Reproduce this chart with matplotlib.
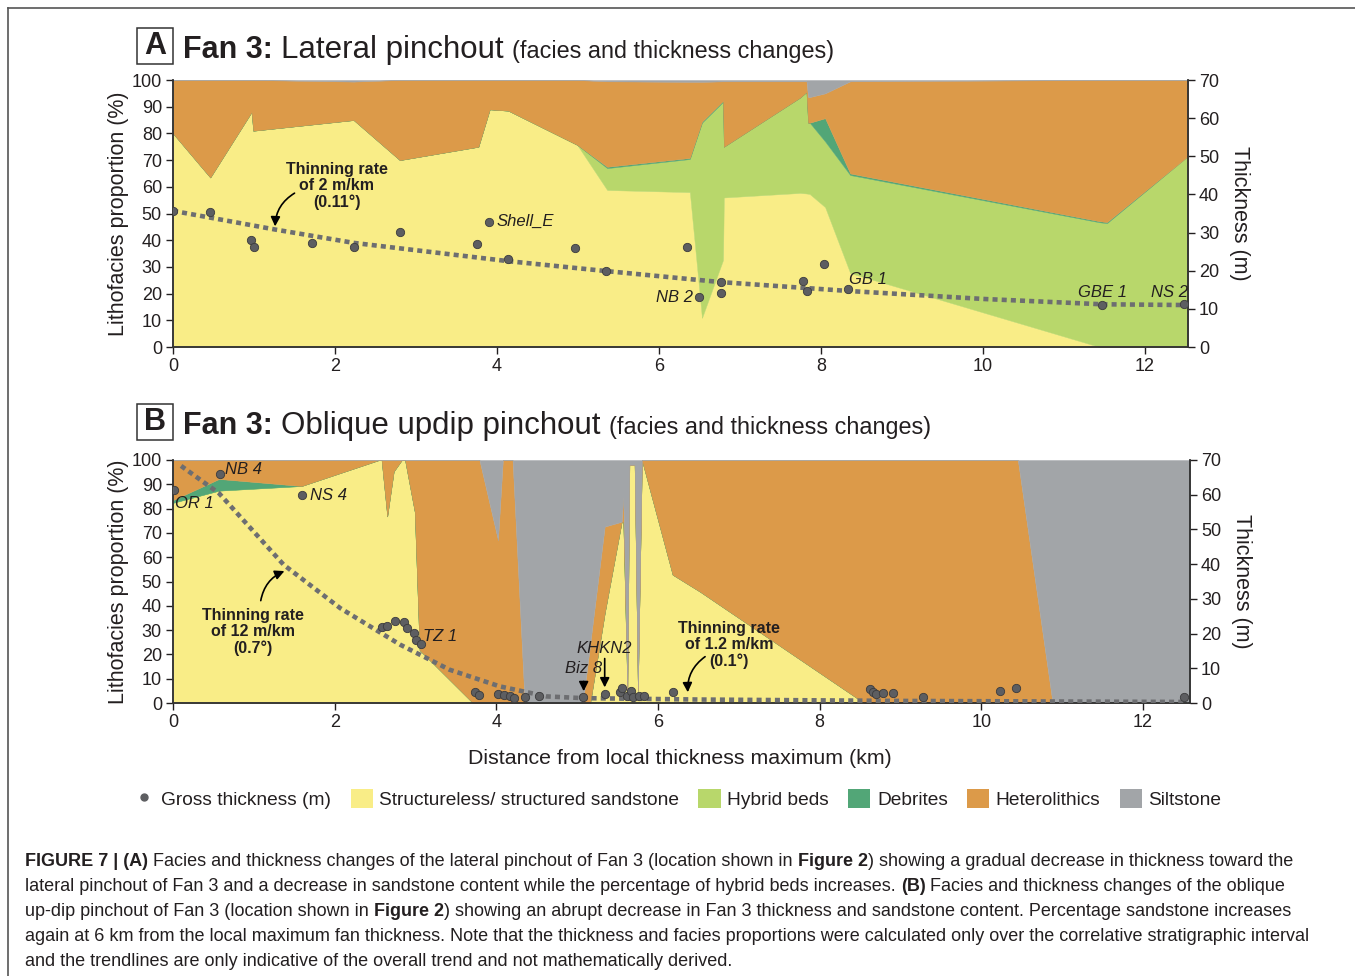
import matplotlib
matplotlib.use('Agg')
import matplotlib.pyplot as plt
from matplotlib.patches import Rectangle, Patch
from matplotlib.lines import Line2D

plt.rcParams['font.family'] = ['Liberation Sans', 'DejaVu Sans']

# ---- Panel A: lateral pinchout (cumulative facies tops, %) ----
a_x = [0, 0.46, 0.97, 0.99, 2.23, 2.8, 3.77, 3.91, 4.14, 4.99, 5.36, 6.38, 6.53, 6.79, 6.80,
       7.74, 7.82, 7.84, 7.86, 8.05, 8.36, 11.44, 11.53, 12.55]
a_sand = [80, 63.5, 88, 81, 85, 70, 75, 89, 88.5, 75.7, 58.8, 58, 10.9, 32.6, 56,
          57.7, 57.5, 57.4, 57.3, 52.4, 27.7, 0, 0, 0]
a_hybrid = [80, 63.5, 88, 81, 85, 70, 75, 89, 88.5, 75.7, 67, 70.4, 84, 91.8, 75,
            93.4, 95.5, 84, 84, 77, 64.4, 46.7, 46.4, 72]
a_debrite = [80, 63.5, 88, 81, 85, 70, 75, 89, 88.5, 75.7, 67.5, 70.8, 84.4, 92.2, 75,
             93.4, 95.5, 84, 84, 85.7, 65, 47.1, 46.8, 72]
a_hetero = [100, 100, 100, 100, 99.4, 100, 100, 100, 100, 100, 99.5, 99.3, 99.3, 99.5, 99.5,
            99.5, 99.5, 93.6, 93.6, 95, 99.5, 100, 100, 100]

a_well_x = [0, 0.46, 0.96, 1.0, 1.72, 2.23, 2.8, 3.75, 3.9, 4.14, 4.96, 5.35, 6.35, 6.49,
            6.77, 6.77, 7.78, 7.83, 8.04, 8.33, 11.47, 12.48]
a_well_m = [35.7, 35.4, 28.1, 26.2, 27.3, 26.2, 30.2, 27.0, 32.8, 23.0, 26.0, 19.9, 26.2, 13.1,
            17.0, 14.2, 17.3, 14.7, 21.8, 15.2, 11.0, 11.3]
a_trend_x = [0, 1.26, 2.23, 4.14, 5.35, 6.77, 8.33, 10, 11.47, 12.5]
a_trend_m = [35.7, 30.8, 27.3, 22.5, 19.9, 17.0, 14.7, 12.6, 11.2, 11.0]

# ---- Panel B: oblique updip pinchout ----
b_x = [0, 0.57, 1.59, 2.55, 2.58, 2.65, 2.73, 2.83, 2.87, 2.99, 3.05, 3.71, 3.79, 4.02, 4.08,
       4.20, 4.35, 5.07, 5.16, 5.34, 5.55, 5.57, 5.62, 5.645, 5.71, 5.75, 5.80, 6.18, 6.52,
       8.55, 10.45, 10.88, 12.58]
b_sand = [82.4, 87.4, 89.3, 100, 100, 76.8, 95.3, 100, 100, 78.7, 21.8, 0, 0, 0, 0,
          0, 0, 0, 0, 37, 74.6, 74.6, 5, 98, 98, 5, 100, 52.8, 45.8,
          0, 0, 0, 0]
b_debrite = [83.5, 92.2, 89.3, 100, 100, 76.8, 95.3, 100, 100, 78.7, 21.8, 0, 0, 0, 0,
             0, 0, 0, 0, 37, 74.6, 74.6, 5, 98, 98, 5, 100, 52.8, 45.8,
             0, 0, 0, 0]
b_hetero = [100, 100, 100, 100, 100, 100, 100, 100, 100, 100, 100, 100, 100, 67, 100,
            100, 0, 0, 24.2, 72.6, 74.6, 85, 5, 98, 98, 5, 100, 100, 100,
            100, 100, 0, 0]

b_well_x = [0.01, 0.58, 1.60, 2.59, 2.65, 2.74, 2.86, 2.90, 2.98, 3.0, 3.07, 3.73, 3.78, 4.02,
            4.09, 4.17, 4.22, 4.36, 4.53, 5.07, 5.34, 5.53, 5.56, 5.61, 5.67, 5.69, 5.76, 5.83,
            6.19, 8.62, 8.66, 8.70, 8.78, 8.91, 9.28, 10.23, 10.43, 12.5]
b_well_m = [61.4, 66.0, 59.8, 21.9, 22.2, 23.5, 23.4, 21.6, 20.1, 18.2, 17.1, 3.2, 2.4, 2.6,
            2.2, 1.9, 1.4, 1.6, 1.9, 1.6, 2.7, 3.3, 4.3, 2.0, 3.5, 1.6, 1.9, 1.9,
            3.3, 3.9, 3.3, 2.5, 2.8, 2.8, 1.8, 3.5, 4.2, 1.6]
b_trend_x = [0.1, 0.57, 1.37, 2.07, 2.81, 3.42, 4.04, 4.62, 5.07, 6.5, 9, 12.55]
b_trend_m = [68.3, 60.4, 39.8, 27.3, 16.8, 9.6, 4.8, 1.9, 1.4, 1.0, 0.6, 0.3]

facies = ['Structureless/ structured sandstone', 'Hybrid beds', 'Debrites',
          'Heterolithics', 'Siltstone']
colors = ['#f9ed87', '#b8d76b', '#52a677', '#dc9a49', '#a2a5a8']
ink = '#231f20'
W, H = 1355, 976

fig = plt.figure(figsize=(W / 100, H / 100), dpi=100)


def add_ax(l, t, r, b):
    return fig.add_axes([l / W, 1 - b / H, (r - l) / W, (b - t) / H])


def panel(ax, x, tops, xmax, wx, wm, tx, tm):
    lower = [0] * len(x)
    for top, c in zip(tops, colors[:4]):
        ax.fill_between(x, lower, top, color=c, lw=0.3, ec=c)
        lower = top
    ax.fill_between(x, lower, [100] * len(x), color=colors[4], lw=0.3, ec=colors[4])
    ax.set_xlim(0, xmax)
    ax.set_ylim(0, 100)
    ax.set_yticks(range(0, 101, 10))
    ax.set_xticks(range(0, 13, 2))
    ax.spines['top'].set_visible(False)
    ax.set_ylabel('Lithofacies proportion (%)', fontsize=15.5, color=ink, labelpad=2)
    ax2 = ax.twinx()
    ax2.set_ylim(0, 70)
    ax2.set_yticks(range(0, 71, 10))
    ax2.spines['top'].set_visible(False)
    ax2.set_ylabel('Thickness (m)', fontsize=15.5, color=ink, rotation=-90, labelpad=22)
    for a in (ax, ax2):
        a.tick_params(direction='out', length=5, width=1, labelsize=13, colors=ink, pad=3)
        for s in a.spines.values():
            s.set_color('#333333')
            s.set_linewidth(1.1)
    ax2.plot(tx, tm, color='#6d6e71', lw=3.3, ls=(0, (1.1, 0.9)), zorder=4)
    ax2.plot(wx, wm, 'o', ms=6, mfc='#5d5e61', mec='#3b3b3d', mew=0.6, zorder=5)
    return ax2


axA = add_ax(173, 80, 1188, 347)
axA2 = panel(axA, a_x, [a_sand, a_hybrid, a_debrite, a_hetero], 12.53,
             a_well_x, a_well_m, a_trend_x, a_trend_m)
axB = add_ax(173, 460, 1190, 703)
axB2 = panel(axB, b_x, [b_sand, b_sand, b_debrite, b_hetero], 12.58,
             b_well_x, b_well_m, b_trend_x, b_trend_m)

# annotations panel A
lab = dict(fontsize=12, style='italic', color=ink)
axA2.text(2.02, 42.2, 'Thinning rate\nof 2 m/km\n(0.11°)', ha='center', va='center',
          fontsize=11.5, fontweight='bold', color=ink, linespacing=1.1)
axA2.annotate('', xy=(1.26, 30.9), xytext=(1.53, 40.7),
              arrowprops=dict(arrowstyle='-|>', color='black', lw=1.2,
                              connectionstyle='arc3,rad=0.3', mutation_scale=14))
axA2.text(4.0, 33.0, 'Shell_E', ha='left', va='center', **lab)
axA2.text(6.42, 13.1, 'NB 2', ha='right', va='center', **lab)
axA2.text(8.35, 17.6, 'GB 1', ha='left', va='center', **lab)
axA2.text(11.48, 14.4, 'GBE 1', ha='center', va='center', **lab)
axA2.text(12.3, 14.4, 'NS 2', ha='center', va='center', **lab)

# annotations panel B
axB2.text(0.99, 20.4, 'Thinning rate\nof 12 m/km\n(0.7°)', ha='center', va='center',
          fontsize=11.5, fontweight='bold', color=ink, linespacing=1.1)
axB2.annotate('', xy=(1.41, 38.3), xytext=(1.08, 28.7),
              arrowprops=dict(arrowstyle='-|>', color='black', lw=1.2,
                              connectionstyle='arc3,rad=-0.3', mutation_scale=14))
axB2.text(6.88, 16.7, 'Thinning rate\nof 1.2 m/km\n(0.1°)', ha='center', va='center',
          fontsize=11.5, fontweight='bold', color=ink, linespacing=1.1)
axB2.annotate('', xy=(6.37, 2.3), xytext=(6.61, 13.8),
              arrowprops=dict(arrowstyle='-|>', color='black', lw=1.2,
                              connectionstyle='arc3,rad=0.3', mutation_scale=14))
axB2.annotate('', xy=(5.08, 2.6), xytext=(5.08, 7.0),
              arrowprops=dict(arrowstyle='-|>', color='black', lw=1.2, mutation_scale=14))
axB2.annotate('', xy=(5.34, 3.7), xytext=(5.34, 13.6),
              arrowprops=dict(arrowstyle='-|>', color='black', lw=1.2, mutation_scale=14))
axB2.text(5.08, 9.8, 'Biz 8', ha='center', va='center', **lab)
axB2.text(5.34, 15.8, 'KHKN2', ha='center', va='center', **lab)
axB2.text(0.64, 67.4, 'NB 4', ha='left', va='center', **lab)
axB2.text(0.03, 57.6, 'OR 1', ha='left', va='center', **lab)
axB2.text(1.69, 59.9, 'NS 4', ha='left', va='center', **lab)
axB2.text(3.09, 19.3, 'TZ 1', ha='left', va='center', **lab)

fig.text(680 / W, 1 - 759 / H, 'Distance from local thickness maximum (km)',
         ha='center', va='center', fontsize=15.4, color=ink)

renderer = fig.canvas.get_renderer()


def width(txt, **kw):
    t1 = fig.text(0, 0, txt + '|', **kw)
    t2 = fig.text(0, 0, '|', **kw)
    w = t1.get_window_extent(renderer).width - t2.get_window_extent(renderer).width
    t1.remove()
    t2.remove()
    return w


def runs(x, y, parts):
    for txt, kw in parts:
        fig.text(x / W, 1 - y / H, txt, ha='left', va='baseline', color=ink, **kw)
        x += width(txt, **kw)


def title(y, letter, main):
    fig.add_artist(Rectangle((137 / W, 1 - (y + 6) / H), 36 / W, 36 / H,
                             transform=fig.transFigure, fill=False, ec='#333333', lw=1.1))
    fig.text(155 / W, 1 - (y - 12) / H, letter, ha='center', va='center', fontsize=22,
             fontweight='bold', color=ink)
    runs(183, y, [('Fan 3: ', dict(fontsize=22, fontweight='bold')),
                  (main + ' ', dict(fontsize=22.5)),
                  ('(facies and thickness changes)', dict(fontsize=16.8))])


title(58, 'A', 'Lateral pinchout')
title(434, 'B', 'Oblique updip pinchout')

handles = [Line2D([], [], marker='o', ls='none', ms=5, color='#5d5e61')]
handles += [Patch(fc=c, ec='none') for c in colors]
fig.legend(handles, ['Gross thickness (m)'] + facies, loc='center',
           bbox_to_anchor=(677 / W, 1 - 799 / H), ncol=6, frameon=False, fontsize=13.8,
           handlelength=1.15, handleheight=1.15, handletextpad=0.35, columnspacing=1.0,
           labelcolor=ink)

# caption
B = dict(fontsize=13.0, fontweight='bold')
R = dict(fontsize=13.0)
caption = [
    [('FIGURE 7 | (A)', B), (' Facies and thickness changes of the lateral pinchout of Fan 3 (location shown in ', R),
     ('Figure 2', B), (') showing a gradual decrease in thickness toward the', R)],
    [('lateral pinchout of Fan 3 and a decrease in sandstone content while the percentage of hybrid beds increases. ', R),
     ('(B)', B), (' Facies and thickness changes of the oblique', R)],
    [('up-dip pinchout of Fan 3 (location shown in ', R), ('Figure 2', B),
     (') showing an abrupt decrease in Fan 3 thickness and sandstone content. Percentage sandstone increases', R)],
    [('again at 6 km from the local maximum fan thickness. Note that the thickness and facies proportions were calculated only over the correlative stratigraphic interval', R)],
    [('and the trendlines are only indicative of the overall trend and not mathematically derived.', R)],
]
for i, line in enumerate(caption):
    runs(25, 866 + 25 * i, line)

# figure frame
fig.add_artist(Line2D([8 / W, 8 / W], [0, 1 - 8 / H], color='#555555', lw=1.2))
fig.add_artist(Line2D([8 / W, 1], [1 - 8 / H, 1 - 8 / H], color='#555555', lw=1.2))

fig.savefig('out.png', dpi=100)
